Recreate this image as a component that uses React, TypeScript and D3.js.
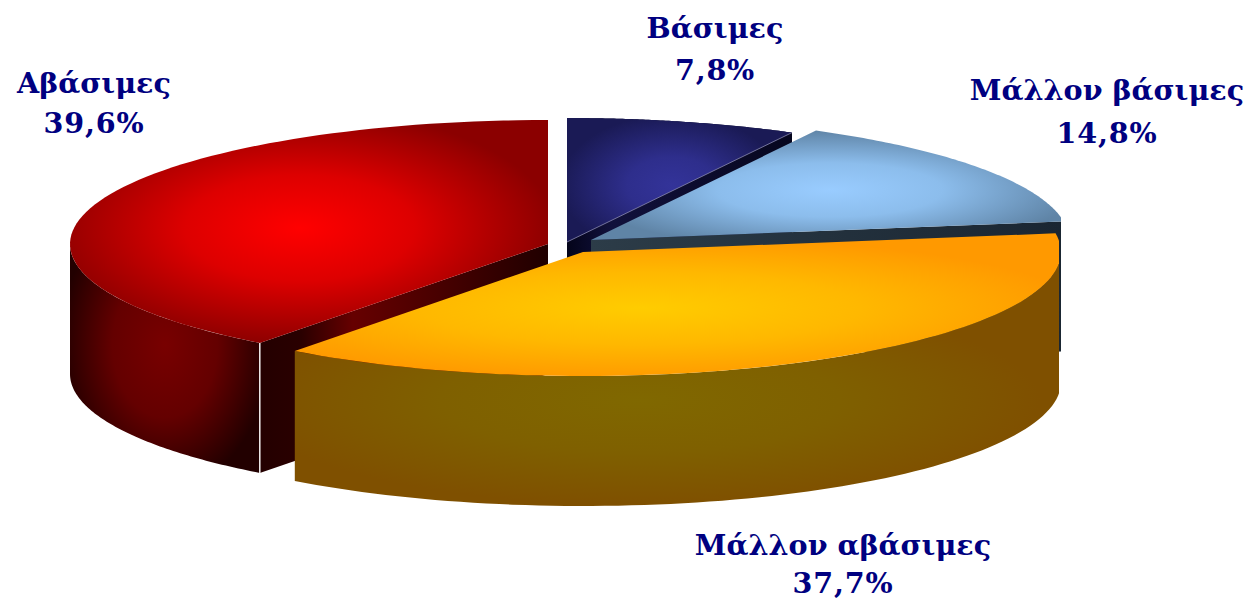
import React from "react";
import * as d3 from "d3";

const categories = ["Βάσιμες", "Μάλλον βάσιμες", "Μάλλον αβάσιμες", "Αβάσιμες"];
const values = [7.8, 14.8, 37.7, 39.6];
const valueLabels = ["7,8%", "14,8%", "37,7%", "39,6%"];

const centers = [
  [567, 242],
  [591, 240],
  [583, 252],
  [548, 244],
];
const labelPos = [
  [715, 38, 80],
  [1107, 100, 143],
  [843, 555, 593],
  [94, 93, 133],
];
const RX = 478;
const RY = 124;
const DEPTH = 130;
const TAU = 2 * Math.PI;

const pie = d3.pie<number>().sort(null).startAngle(0).endAngle((TAU * d3.sum(values)) / 100);
const line = d3.line<number[]>().x((d) => d[0]).y((d) => d[1]);

const pt = (c: number[], a: number, dz = 0) => [
  c[0] + RX * Math.sin(a),
  c[1] - RY * Math.cos(a) + dz,
];
const arcPts = (c: number[], a0: number, a1: number, dz = 0) =>
  d3.range(0, 81).map((i) => pt(c, a0 + ((a1 - a0) * i) / 80, dz));

const topPath = (c: number[], a0: number, a1: number) =>
  line([c, ...arcPts(c, a0, a1)]) + "Z";
const wallPath = (c: number[], a0: number, a1: number) =>
  line([...arcPts(c, a0, a1), ...arcPts(c, a1, a0, DEPTH)]) + "Z";
const cutPath = (c: number[], a: number) => {
  const p = pt(c, a);
  return line([c, p, [p[0], p[1] + DEPTH], [c[0], c[1] + DEPTH]]) + "Z";
};

const Radial = ({ id, cx, cy, rx, ry, stops }: any) => (
  <radialGradient
    id={id}
    gradientUnits="userSpaceOnUse"
    cx={0}
    cy={0}
    r={1}
    gradientTransform={`translate(${cx} ${cy}) scale(${rx} ${ry})`}
  >
    {stops.map((s: any[], i: number) => (
      <stop key={i} offset={s[0]} stopColor={s[1]} />
    ))}
  </radialGradient>
);
const Linear = ({ id, x1, x2, stops }: any) => (
  <linearGradient id={id} gradientUnits="userSpaceOnUse" x1={x1} x2={x2} y1={0} y2={0}>
    {stops.map((s: any[], i: number) => (
      <stop key={i} offset={s[0]} stopColor={s[1]} />
    ))}
  </linearGradient>
);

export default function App() {
  const arcs = pie(values);
  const [navy, blue, orange, red] = arcs;
  const font = { fontFamily: "'DejaVu Serif', serif", fontWeight: 700, fontSize: 28.6 };
  const navyEnd = pt(centers[0], navy.endAngle);
  const redStart = pt(centers[3], orange.endAngle);
  return (
    <svg
      width={1246}
      height={600}
      viewBox="0 0 1246 600"
      style={{ position: "absolute", left: 0, top: 0, background: "#fff" }}
    >
      <defs>
        <clipPath id="blueClip">
          <rect x={0} y={0} width={1061} height={352} />
        </clipPath>
        <clipPath id="orangeClip">
          <rect x={0} y={0} width={1059} height={600} />
        </clipPath>
        <Radial id="navyTop" cx={672} cy={185} rx={112} ry={70} stops={[[0, "#333399"], [0.4, "#2e2e8c"], [1, "#1a1a55"]]} />
        <Radial id="blueTop" cx={830} cy={190} rx={250} ry={60} stops={[[0, "#99ccff"], [0.45, "#8cbdec"], [1, "#5f84a6"]]} />
        <Radial id="orangeTop" cx={640} cy={308} rx={440} ry={72} stops={[[0, "#ffcc00"], [0.5, "#ffb800"], [1, "#ff9900"]]} />
        <Radial id="redTop" cx={300} cy={228} rx={255} ry={118} stops={[[0, "#ff0000"], [0.45, "#dd0000"], [1, "#8b0000"]]} />
        <Radial id="redWall" cx={165} cy={345} rx={105} ry={145} stops={[[0, "#780000"], [0.5, "#640000"], [1, "#220000"]]} />
        <Linear id="redCut" x1={261} x2={548} stops={[[0, "#240000"], [0.14, "#2a0000"], [0.32, "#660000"], [0.6, "#4a0000"], [1, "#200000"]]} />
        <Radial id="orangeWall" cx={640} cy={400} rx={400} ry={105} stops={[[0, "#806800"], [0.5, "#7f6000"], [1, "#7f5000"]]} />
        <Linear id="navyCut" x1={567} x2={790} stops={[[0, "#04041a"], [0.2, "#11113c"], [1, "#06061e"]]} />
        <Linear id="blueCut" x1={591} x2={1061} stops={[[0, "#2c3c48"], [1, "#1a2632"]]} />
      </defs>

      {/* navy */}
      <path d={wallPath(centers[0], navy.startAngle, navy.endAngle)} fill="#0b0b2e" />
      <path d={cutPath(centers[0], navy.endAngle)} fill="url(#navyCut)" />
      <path d={topPath(centers[0], navy.startAngle, navy.endAngle)} fill="url(#navyTop)" />
      <line x1={centers[0][0]} y1={centers[0][1]} x2={navyEnd[0]} y2={navyEnd[1]} stroke="#8a8ab0" strokeWidth={0.8} />

      {/* light blue */}
      <g clipPath="url(#blueClip)">
        <path d={wallPath(centers[1], blue.endAngle, Math.PI / 2)} fill="#1a2632" />
        <path d={cutPath(centers[1], blue.endAngle)} fill="url(#blueCut)" />
        <path d={topPath(centers[1], blue.startAngle, blue.endAngle)} fill="url(#blueTop)" />
      </g>

      {/* red */}
      <path d={wallPath(centers[3], red.startAngle, 1.5 * Math.PI)} fill="url(#redWall)" />
      <path d={cutPath(centers[3], red.startAngle)} fill="url(#redCut)" />
      <path d={topPath(centers[3], red.startAngle, TAU)} fill="url(#redTop)" />
      <line x1={redStart[0]} x2={redStart[0]} y1={redStart[1]} y2={redStart[1] + DEPTH} stroke="#f4f0f0" strokeWidth={1.5} />

      {/* orange */}
      <g clipPath="url(#orangeClip)">
        <path d={wallPath(centers[2], Math.PI / 2, orange.endAngle)} fill="url(#orangeWall)" />
        <path d={topPath(centers[2], orange.startAngle, orange.endAngle)} fill="url(#orangeTop)" />
      </g>

      {categories.map((c, i) => (
        <g key={c} {...font} fill="#000080" textAnchor="middle">
          <text x={labelPos[i][0]} y={labelPos[i][1]}>{c}</text>
          <text x={labelPos[i][0]} y={labelPos[i][2]} letterSpacing={0.8}>{valueLabels[i]}</text>
        </g>
      ))}
    </svg>
  );
}
